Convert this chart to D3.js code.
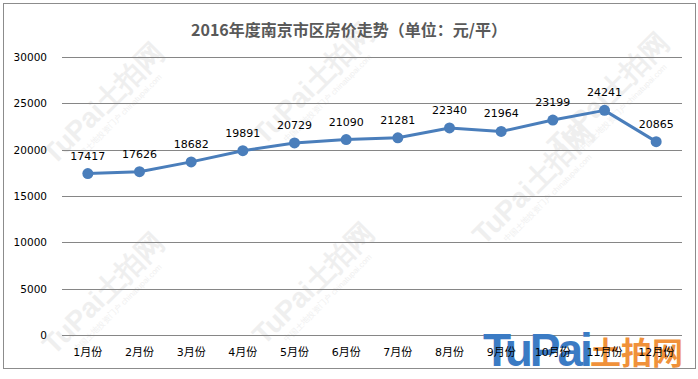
<!DOCTYPE html>
<html><head><meta charset="utf-8">
<script src="https://cdn.jsdelivr.net/npm/d3@7"></script>
<style>body{margin:0;background:#fff}svg{display:block}</style>
</head><body>
<script>
const months = ["1月份","2月份","3月份","4月份","5月份","6月份","7月份","8月份","9月份","10月份","11月份","12月份"];
const prices = [17417,17626,18682,19891,20729,21090,21281,22340,21964,23199,24241,20865];
const yTicks = [0,5000,10000,15000,20000,25000,30000];
const titleText = "2016年度南京市区房价走势（单位：元/平）";

const W = 698, H = 379;
const svg = d3.select("body").append("svg").attr("width", W).attr("height", H);
svg.append("rect").attr("x",0).attr("y",0).attr("width",W).attr("height",H).attr("fill","#fff");

// faint watermarks
const wm = svg.append("g").attr("fill","#efefef").attr("font-family","Arial, Liberation Sans, sans-serif").attr("font-weight","bold");
[[110,110],[110,300],[320,90],[320,290],[540,190],[615,100]].forEach(([x,y])=>{
  const g = wm.append("g").attr("transform",`translate(${x},${y}) rotate(-45)`);
  g.append("text").attr("text-anchor","middle").attr("font-size",28).text("TuPai土拍网");
  g.append("text").attr("text-anchor","middle").attr("y",14).attr("font-size",8).attr("font-weight","normal").text("中国土地投资门户 chinatupai.com");
});

// outer border
svg.append("rect").attr("x",3.5).attr("y",3.5).attr("width",692).attr("height",365).attr("fill","none").attr("stroke","#8c8c8c").attr("stroke-width",1);

const x = d3.scaleBand().domain(months).range([62,682]);
const y = d3.scaleLinear().domain([0,30000]).range([335,57]);

// grid
svg.append("g").selectAll("line").data(yTicks).join("line")
  .attr("x1",62).attr("x2",682).attr("y1",d=>Math.round(y(d))+0.5).attr("y2",d=>Math.round(y(d))+0.5)
  .attr("stroke","#868686").attr("stroke-width",1);

// y axis
const yAxis = svg.append("g").attr("transform","translate(47,0)")
  .call(d3.axisLeft(y).tickValues(yTicks).tickFormat(d3.format("d")).tickSize(0).tickPadding(0));
yAxis.select(".domain").remove();
yAxis.selectAll("text").attr("font-family","DejaVu Sans, Verdana, sans-serif").attr("font-size",10.5).attr("fill","#000");

// logo bottom right
const logo = svg.append("g");
logo.append("text").attr("x",483).attr("y",366).attr("font-family","Arial, Liberation Sans, sans-serif").attr("font-weight","bold")
  .attr("font-size",46).attr("fill","#3b7bc4").attr("letter-spacing",-3).text("TuPai");
logo.append("text").attr("x",590).attr("y",364).attr("font-family","'Noto Sans CJK SC', sans-serif").attr("font-weight","bold")
  .attr("font-size",31).attr("fill","#f0913a").text("土拍网");

// x axis
const xAxis = svg.append("g").attr("transform","translate(0,348)")
  .call(d3.axisBottom(x).tickSize(0).tickPadding(0));
xAxis.select(".domain").remove();
xAxis.selectAll("text").attr("font-family","DejaVu Sans, 'Noto Sans CJK SC', sans-serif").attr("font-size",11).attr("fill","#000");

// line
const cx = d => x(d.m) + x.bandwidth()/2;
const pts = months.map((m,i)=>({m, v: prices[i]}));
svg.append("path").datum(pts)
  .attr("fill","none").attr("stroke","#4a7ebb").attr("stroke-width",3).attr("stroke-linejoin","round")
  .attr("d", d3.line().x(cx).y(d=>y(d.v)));
svg.append("g").selectAll("circle").data(pts).join("circle")
  .attr("cx",cx).attr("cy",d=>y(d.v)).attr("r",5.5).attr("fill","#4a7ebb");

// data labels
svg.append("g").selectAll("text").data(pts).join("text")
  .attr("x",cx).attr("y",d=>y(d.v)-14).attr("text-anchor","middle")
  .attr("font-family","DejaVu Sans, Verdana, sans-serif").attr("font-size",11).attr("fill","#000")
  .text(d=>d.v);

// title
svg.append("text").attr("x",349).attr("y",36).attr("text-anchor","middle")
  .attr("font-family","'Noto Sans CJK SC', sans-serif").attr("font-weight","bold").attr("font-size",16).attr("fill","#595959")
  .text(titleText);
</script>
</body></html>
